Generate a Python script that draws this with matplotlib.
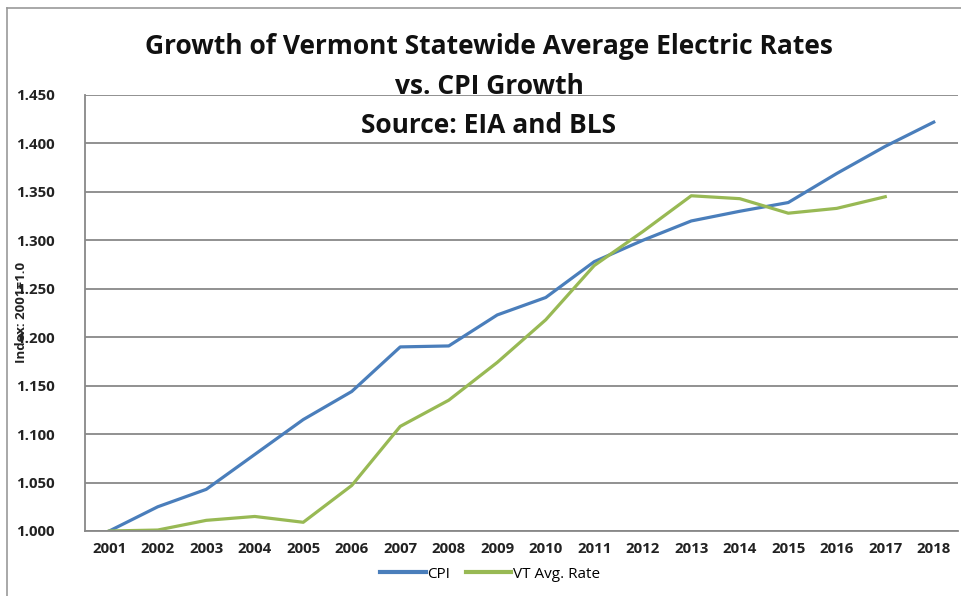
import matplotlib
matplotlib.use("Agg")
import matplotlib.pyplot as plt
from matplotlib.lines import Line2D

plt.rcParams["font.family"] = ["Open Sans", "DejaVu Sans"]

years = [str(y) for y in range(2001, 2019)]
cpi = [1.000, 1.025, 1.043, 1.079, 1.115, 1.144, 1.190, 1.191, 1.223, 1.241,
       1.278, 1.300, 1.320, 1.330, 1.339, 1.369, 1.397, 1.422]
vt_rate = [1.000, 1.001, 1.011, 1.015, 1.009, 1.047, 1.108, 1.135, 1.174, 1.218,
           1.274, 1.309, 1.346, 1.343, 1.328, 1.333, 1.345]
yticks = [1.000, 1.050, 1.100, 1.150, 1.200, 1.250, 1.300, 1.350, 1.400, 1.450]

W, H = 962, 596
fig = plt.figure(figsize=(W / 100, H / 100), dpi=100)
ax = fig.add_axes([85 / W, (H - 531) / H, (958 - 85) / W, (531 - 95) / H])

blue = "#4a7ebb"
green = "#98b954"
grid_c = "#888888"

x = list(range(len(years)))
ax.plot(x, cpi, color=blue, lw=2.3, solid_joinstyle="round", label="CPI")
ax.plot(x[:len(vt_rate)], vt_rate, color=green, lw=2.3, solid_joinstyle="round",
        label="VT Avg. Rate")

ax.set_xlim(-0.5, len(years) - 0.5)
ax.set_ylim(1.0, 1.45)
ax.set_yticks(yticks)
ax.set_yticklabels([f"{v:.3f}" for v in yticks], fontweight="bold", fontsize=10.8)
ax.set_xticks(x)
ax.set_xticklabels(years, fontweight="bold", fontsize=10.8)
ax.tick_params(length=0, pad=8, colors="#222222")
ax.tick_params(axis="y", pad=22)
ax.yaxis.grid(True, color=grid_c, lw=1.3)
ax.set_axisbelow(True)
for s in ["top", "right"]:
    ax.spines[s].set_visible(False)
for s in ["left", "bottom"]:
    ax.spines[s].set_color(grid_c)
    ax.spines[s].set_linewidth(1.3)

fig.text(22 / W, 1 - 312 / H, "Index: 2001=1.0", rotation=90, ha="center",
         va="center", fontsize=9.5, fontweight="bold", color="#222222")

title_lines = ["Growth of Vermont Statewide Average Electric Rates",
               "vs. CPI Growth", "Source: EIA and BLS"]
for i, t in enumerate(title_lines):
    fig.text(489 / W, 1 - (47 + 39 * i) / H, t, ha="center", va="center",
             fontsize=19, fontweight="bold", color="#111111")

handles = [Line2D([], [], color=blue, lw=3), Line2D([], [], color=green, lw=3)]
fig.legend(handles, ["CPI", "VT Avg. Rate"], loc="center",
           bbox_to_anchor=(490 / W, 1 - 574 / H), ncol=2, frameon=False,
           fontsize=11, handlelength=3, handletextpad=0.1, columnspacing=1.0)

# outer chart frame (cropped on right and bottom)
fig.add_artist(Line2D([7 / W, 7 / W], [0, 1 - 8 / H], color="#999999", lw=1.2))
fig.add_artist(Line2D([7 / W, 1], [1 - 8 / H, 1 - 8 / H], color="#999999", lw=1.2))

fig.savefig("out.png", dpi=100)
